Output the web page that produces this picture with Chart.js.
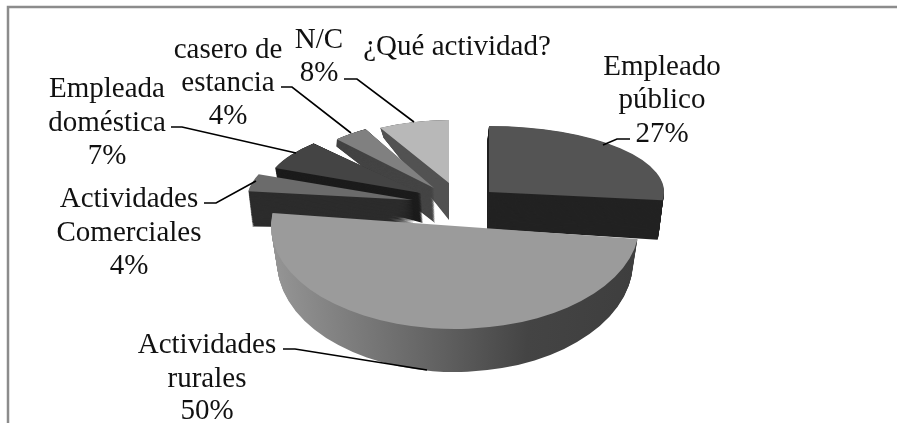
<!DOCTYPE html>
<html>
<head>
<meta charset="utf-8">
<title>¿Qué actividad?</title>
<script src="https://cdn.jsdelivr.net/npm/chart.js@4"></script>
<style>
html, body { margin: 0; padding: 0; background: #fff; }
canvas { display: block; }
</style>
</head>
<body>
<canvas id="pie" width="897" height="423"></canvas>
<script>
// data, clockwise from 12 o'clock
const chartTitle = '¿Qué actividad?';
const categories = [
    ['Empleado', 'público'],
    ['Actividades', 'rurales'],
    ['Actividades', 'Comerciales'],
    ['Empleada', 'doméstica'],
    ['casero de', 'estancia'],
    ['N/C']
];
const percents = [27, 50, 4, 7, 4, 8];

// colours of each slice
const topColors = ['#545454', '#9b9b9b', '#6b6b6b', '#444444', '#808080', '#b8b8b8'];
const sideColors = ['#222222', null, '#2c2c2c', '#1c1c1c', '#444444', '#525252'];

// fake 3D: each slice gets an ellipse for its top face and one for its bottom face
// [centerX, centerY, radiusX, radiusY]
const topFace = [
    [489, 192, 175, 66],
    [455, 226, 184, 103],
    [413, 200, 166, 70],
    [421, 193, 157, 68],
    [434, 188, 142, 67],
    [449, 183, 143, 63]
];
const bottomFace = [
    [487, 229, 172, 85],
    [455, 262, 178, 110],
    [416, 229, 165, 20],
    [423, 223, 156, 105],
    [435, 223, 144, 105],
    [449, 220, 136, 94]
];
// back to front
const drawOrder = [5, 4, 3, 2, 0, 1];

// where the text goes: centre x and the baseline of each line
const labelSpots = [
    [662, [75, 108, 142]],
    [207, [353, 387, 419]],
    [129, [207, 241, 274]],
    [107, [97, 131, 164]],
    [228, [58, 91, 124]],
    [319, [48, 81]]
];
const leaderLines = [
    [[630, 139], [617, 139], [603, 145]],
    [[283, 349], [295, 349], [427, 370]],
    [[204, 203], [216, 203], [256, 181]],
    [[171, 127], [182, 127], [296, 153]],
    [[281, 87], [292, 87], [351, 133]],
    [[344, 79], [357, 79], [414, 122]]
];

const labelFont = '29px "Liberation Serif"';

function drawSlice(ctx, arc, face, fill) {
    const original = arc.options;
    arc.options = { ...original, backgroundColor: fill, borderWidth: 0 };
    ctx.save();
    ctx.translate(face[0], face[1]);
    ctx.scale(face[2] / arc.outerRadius, face[3] / arc.outerRadius);
    ctx.translate(-arc.x, -arc.y);
    arc.draw(ctx);
    ctx.restore();
    arc.options = original;
}

const pie3d = {
    id: 'pie3d',
    beforeDatasetsDraw(chart) {
        const ctx = chart.ctx;
        const arcs = chart.getDatasetMeta(0).data;
        const depthSteps = 40;

        drawOrder.forEach(i => {
            const arc = arcs[i];
            let side = sideColors[i];
            if (!side) {
                // the big slice has a shaded rim
                side = ctx.createLinearGradient(arc.x - arc.outerRadius, 0, arc.x + arc.outerRadius, 0);
                side.addColorStop(0, '#959595');
                side.addColorStop(0.45, '#626262');
                side.addColorStop(0.7, '#444444');
                side.addColorStop(1, '#3e3e3e');
            }
            for (let s = depthSteps; s > 0; s--) {
                const t = s / depthSteps;
                const face = topFace[i].map((v, k) => v + (bottomFace[i][k] - v) * t);
                drawSlice(ctx, arc, face, side);
            }
            drawSlice(ctx, arc, topFace[i], topColors[i]);
        });
        return false; // the flat pie is not wanted
    },
    afterDraw(chart) {
        const ctx = chart.ctx;
        ctx.save();

        // frame, only top and left are visible
        ctx.strokeStyle = '#8c8c8c';
        ctx.lineWidth = 2.5;
        ctx.beginPath();
        ctx.moveTo(8, 423);
        ctx.lineTo(8, 7);
        ctx.lineTo(897, 7);
        ctx.stroke();

        ctx.strokeStyle = '#000';
        ctx.lineWidth = 1.6;
        leaderLines.forEach(pts => {
            ctx.beginPath();
            pts.forEach((p, k) => k ? ctx.lineTo(p[0], p[1]) : ctx.moveTo(p[0], p[1]));
            ctx.stroke();
        });

        ctx.fillStyle = '#111';
        ctx.font = labelFont;
        ctx.textAlign = 'center';
        ctx.textBaseline = 'alphabetic';
        categories.forEach((lines, i) => {
            const [x, ys] = labelSpots[i];
            [...lines, percents[i] + '%'].forEach((line, k) => ctx.fillText(line, x, ys[k]));
        });
        ctx.restore();
    }
};

new Chart(document.getElementById('pie'), {
    type: 'pie',
    data: {
        labels: categories.map(c => c.join(' ')),
        datasets: [{
            data: percents,
            backgroundColor: topColors,
            borderWidth: 0
        }]
    },
    options: {
        responsive: false,
        animation: false,
        layout: { padding: { left: 17 } },
        plugins: {
            legend: { display: false },
            tooltip: { enabled: false },
            title: {
                display: true,
                text: chartTitle,
                color: '#111',
                font: { family: 'Liberation Serif', size: 29, weight: 'normal' },
                padding: { top: 30, bottom: 4 }
            }
        }
    },
    plugins: [pie3d]
});
</script>
</body>
</html>
